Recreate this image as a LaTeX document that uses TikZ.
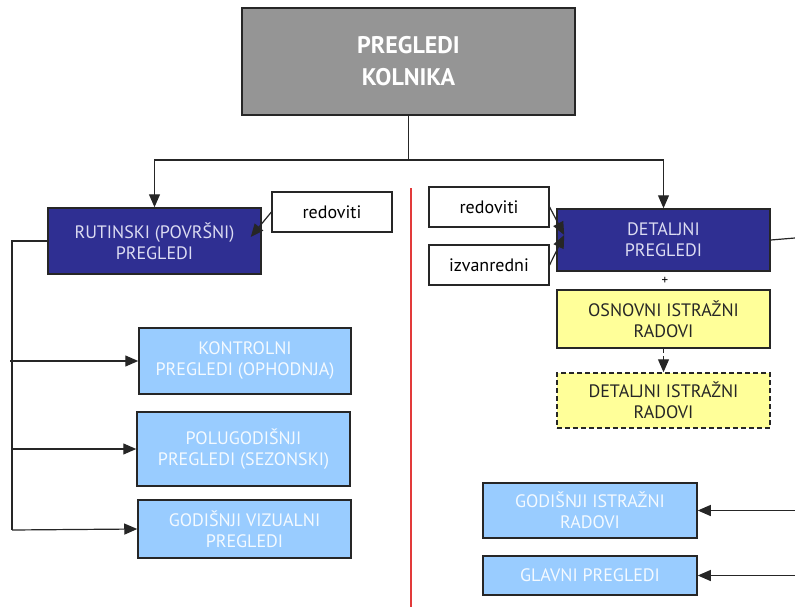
\documentclass[tikz,border=0pt]{standalone}
\usepackage{fontspec}
\setmainfont{PT Sans}
\usetikzlibrary{arrows.meta}
\definecolor{topgray}{HTML}{959595}
\definecolor{darkblue}{HTML}{2F2F92}
\definecolor{darktext}{HTML}{DCDCF2}
\definecolor{lightblue}{HTML}{99CCFF}
\definecolor{lighttext}{HTML}{F4FAFF}
\definecolor{lyellow}{HTML}{FFFF99}
\definecolor{sepred}{HTML}{E23A3A}
\tikzset{
  box/.style={draw=black!85, line width=1.5pt, align=center, inner sep=2pt, font=\fontsize{18}{21}\selectfont},
  topbox/.style={box, fill=topgray, text=white, font=\fontsize{24}{32}\selectfont\bfseries},
  darkbox/.style={box, fill=darkblue, text=darktext},
  lightbox/.style={box, fill=lightblue, text=lighttext},
  yelbox/.style={box, fill=lyellow, text=black!85},
  dashbox/.style={yelbox, dash pattern=on 5pt off 3pt},
  whitebox/.style={box, fill=white, text=black, line width=1.2pt},
  conn/.style={line width=1.2pt, draw=black!85},
  arr/.style={conn, -{Triangle[length=13pt,width=11pt]}},
}
\begin{document}
\begin{tikzpicture}[x=1pt,y=1pt]
\useasboundingbox (0,0) rectangle (795,-607);
% nodes
\node[topbox, minimum width=333, minimum height=107] (top) at (408.5,-61.5) {PREGLEDI\\KOLNIKA};
\node[darkbox, minimum width=213, minimum height=66] (rut) at (154.5,-241) {RUTINSKI (POVRŠNI)\\PREGLEDI};
\node[whitebox, minimum width=120, minimum height=40] (red1) at (332,-212) {redoviti};
\node[lightbox, minimum width=212, minimum height=66] (kon) at (245,-361) {KONTROLNI\\PREGLEDI (OPHODNJA)};
\node[lightbox, minimum width=213, minimum height=74] (pol) at (243.5,-449) {POLUGODIŠNJI\\PREGLEDI (SEZONSKI)};
\node[lightbox, minimum width=213, minimum height=58] (god) at (244.5,-529) {GODIŠNJI VIZUALNI\\PREGLEDI};
\node[whitebox, minimum width=120, minimum height=40] (red2) at (489,-207) {redoviti};
\node[whitebox, minimum width=120, minimum height=40] (izv) at (489,-265) {izvanredni};
\node[darkbox, minimum width=213, minimum height=62] (det) at (663.5,-240) {DETALJNI\\PREGLEDI};
\node[font=\fontsize{13}{14}\selectfont, inner sep=0pt] (plus) at (665,-281) {+};
\node[yelbox, minimum width=213, minimum height=58] (osn) at (663.5,-319) {OSNOVNI ISTRAŽNI\\RADOVI};
\node[dashbox, minimum width=213, minimum height=55] (dis) at (663.5,-400.5) {DETALJNI ISTRAŽNI\\RADOVI};
\node[lightbox, minimum width=214, minimum height=55] (gis) at (590,-510.5) {GODIŠNJI ISTRAŽNI\\RADOVI};
\node[lightbox, minimum width=214, minimum height=39] (gla) at (590,-575.5) {GLAVNI PREGLEDI};
% coordinates
\coordinate (hub) at (408.5,-160);
\coordinate (lb) at (12,-241);
\coordinate (lbend) at (12,-530);
\coordinate (rE) at (795,-238);
\coordinate (rG) at (795,-510.5);
\coordinate (rH) at (795,-575.5);
\coordinate (sepT) at (411,-188);
\coordinate (sepB) at (411,-607);
% separator
\draw[sepred, line width=1.2pt] (sepT) -- (sepB);
% connectors
\draw[conn] (top.south) -- (hub);
\draw[arr] (hub) -| (rut.north);
\draw[arr] (hub) -| (det.north);
\draw[arr] (red1.west) -- ([shift={(-11,4)}]rut.east);
\draw[conn] (rut.west) -- (lb) -- (lbend);
\draw[arr] ([xshift=-2]lb |- kon.west) -- (kon.west);
\draw[arr] (lb |- pol.west) -- (pol.west);
\draw[arr] (lbend) -- (god.west);
\draw[arr] (red2.east) -- ([shift={(8,5)}]det.west);
\draw[arr] (izv.east) -- ([shift={(8,5)}]det.west);
\draw[conn] (det.east) -- (rE);
\draw[arr, dash pattern=on 4pt off 3pt] (osn.south) -- (dis.north);
\draw[arr] (rG) -- (gis.east);
\draw[arr] (rH) -- (gla.east);
\end{tikzpicture}
\end{document}
